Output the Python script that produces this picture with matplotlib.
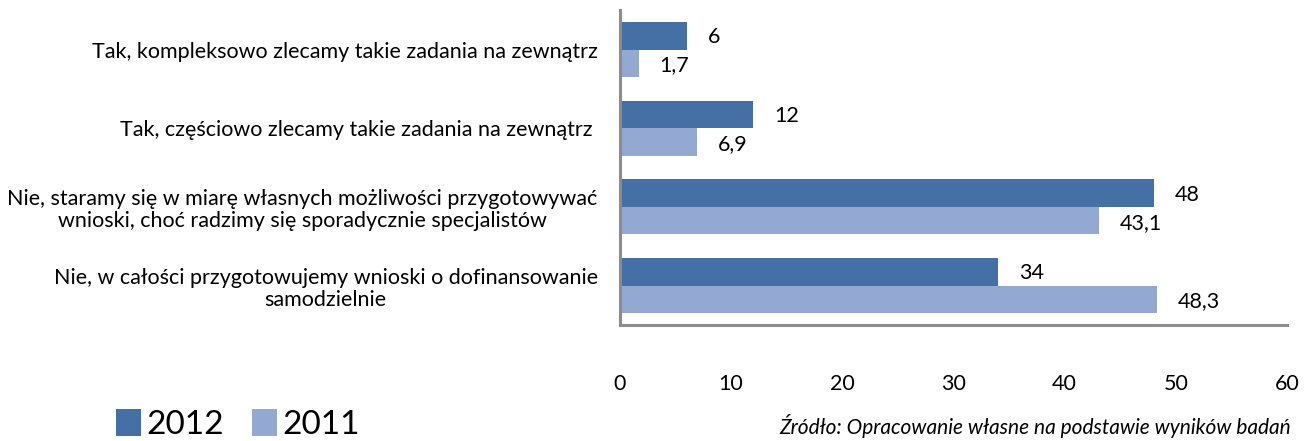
import matplotlib.pyplot as plt
import numpy as np

plt.rcParams['font.family'] = ['Lato', 'DejaVu Sans']

# data
categories = [
    "Tak, kompleksowo zlecamy takie zadania na zewnątrz",
    "Tak, częściowo zlecamy takie zadania na zewnątrz ",
    "Nie, staramy się w miarę własnych możliwości przygotowywać\nwnioski, choć radzimy się sporadycznie specjalistów",
    "Nie, w całości przygotowujemy wnioski o dofinansowanie\nsamodzielnie",
]
values_2012 = [6, 12, 48, 34]
values_2011 = [1.7, 6.9, 43.1, 48.3]
labels_2012 = ["6", "12", "48", "34"]
labels_2011 = ["1,7", "6,9", "43,1", "48,3"]
xticks = [0, 10, 20, 30, 40, 50, 60]

c2012 = "#4470a6"
c2011 = "#94a9d2"

fig = plt.figure(figsize=(13.09, 4.41), dpi=100)
ax = fig.add_axes([0.4736, 0.263, 0.5096, 0.714])

y = np.arange(len(categories))
h = 0.35
ax.barh(y - h / 2, values_2012, height=h, color=c2012, label="2012")
ax.barh(y + h / 2, values_2011, height=h, color=c2011, label="2011")

# value labels
for yi, v, s in zip(y, values_2012, labels_2012):
    ax.annotate(s, (v, yi - h / 2), xytext=(15, -1), textcoords="offset points",
                va="center", ha="left", fontsize=15.5)
for yi, v, s in zip(y, values_2011, labels_2011):
    ax.annotate(s, (v, yi + h / 2), xytext=(15, -1.5), textcoords="offset points",
                va="center", ha="left", fontsize=15.5)

ax.set_ylim(3.5, -0.5)
ax.set_xlim(0, 60)
ax.set_yticks(y)
ax.set_yticklabels(categories, fontsize=15.5, multialignment="center", linespacing=1.15)
ax.set_xticks(xticks)
ax.set_xticklabels([str(t) for t in xticks], fontsize=15.5)
ax.tick_params(axis="both", length=0)
ax.tick_params(axis="x", pad=35)
ax.tick_params(axis="y", pad=16)

for side in ["top", "right"]:
    ax.spines[side].set_visible(False)
for side in ["left", "bottom"]:
    ax.spines[side].set_color("#8c8c8c")
    ax.spines[side].set_linewidth(2.2)

fig.legend(loc="lower left", bbox_to_anchor=(0.066, -0.066), ncol=2, frameon=False,
           fontsize=24, handlelength=0.75, handleheight=0.85, handletextpad=0.15,
           columnspacing=0.85)

fig.text(0.986, 0.035, "Źródło: Opracowanie własne na podstawie wyników badań",
         ha="right", va="center", style="italic", fontsize=15)

fig.savefig("out.png", dpi=100)
